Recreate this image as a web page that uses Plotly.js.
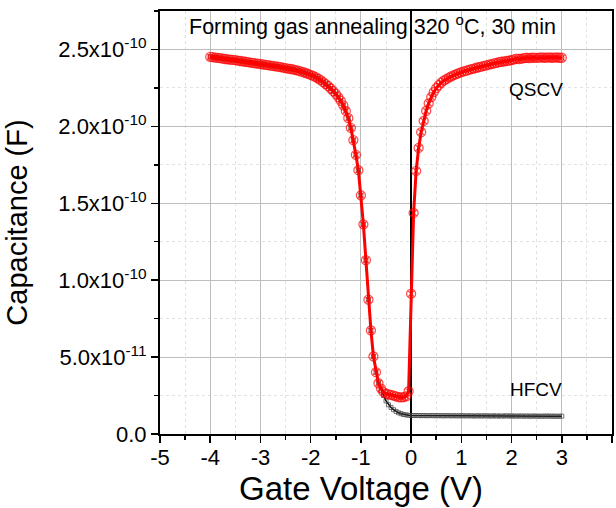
<!DOCTYPE html>
<html>
<head>
<meta charset="utf-8">
<script src="https://cdn.plot.ly/plotly-3.0.1.min.js"></script>
<style>html,body{margin:0;padding:0;background:#fff;}#chart{width:616px;height:508px;}</style>
</head>
<body>
<div id="chart"></div>
<script>
// Gate voltage sweep (V)
var gateVoltage = [
-4.00,-3.95,-3.90,-3.85,-3.80,-3.75,-3.70,-3.65,-3.60,-3.55,
-3.50,-3.45,-3.40,-3.35,-3.30,-3.25,-3.20,-3.15,-3.10,-3.05,
-3.00,-2.95,-2.90,-2.85,-2.80,-2.75,-2.70,-2.65,-2.60,-2.55,
-2.50,-2.45,-2.40,-2.35,-2.30,-2.25,-2.20,-2.15,-2.10,-2.05,
-2.00,-1.95,-1.90,-1.85,-1.80,-1.75,-1.70,-1.65,-1.60,-1.55,
-1.50,-1.45,-1.40,-1.35,-1.30,-1.25,-1.20,-1.15,-1.10,-1.05,
-1.00,-0.95,-0.90,-0.85,-0.80,-0.75,-0.70,-0.65,-0.60,-0.55,
-0.50,-0.45,-0.40,-0.35,-0.30,-0.25,-0.20,-0.15,-0.10,-0.05,
0.00,0.05,0.10,0.15,0.20,0.25,0.30,0.35,0.40,0.45,
0.50,0.55,0.60,0.65,0.70,0.75,0.80,0.85,0.90,0.95,
1.00,1.05,1.10,1.15,1.20,1.25,1.30,1.35,1.40,1.45,
1.50,1.55,1.60,1.65,1.70,1.75,1.80,1.85,1.90,1.95,
2.00,2.05,2.10,2.15,2.20,2.25,2.30,2.35,2.40,2.45,
2.50,2.55,2.60,2.65,2.70,2.75,2.80,2.85,2.90,2.95,
3.00];

// Capacitance, in units of 1e-10 F
var hfcvC = [
2.452,2.450,2.447,2.445,2.443,2.440,2.438,2.436,2.434,2.432,
2.430,2.428,2.425,2.423,2.420,2.418,2.415,2.413,2.410,2.408,
2.405,2.403,2.400,2.398,2.395,2.393,2.390,2.388,2.385,2.382,
2.379,2.376,2.373,2.370,2.366,2.362,2.357,2.352,2.347,2.341,
2.335,2.328,2.320,2.311,2.300,2.288,2.275,2.261,2.246,2.229,
2.211,2.190,2.166,2.137,2.100,2.053,1.990,1.910,1.815,1.715,
1.552,1.363,1.130,0.873,0.673,0.504,0.402,0.335,0.285,0.250,
0.215,0.190,0.172,0.158,0.147,0.138,0.132,0.127,0.124,0.122,
0.120,0.120,0.120,0.120,0.119,0.120,0.119,0.119,0.120,0.119,
0.119,0.119,0.119,0.118,0.119,0.119,0.118,0.119,0.118,0.118,
0.119,0.118,0.118,0.118,0.118,0.117,0.118,0.118,0.117,0.118,
0.118,0.117,0.117,0.118,0.117,0.117,0.117,0.117,0.118,0.117,
0.117,0.117,0.116,0.117,0.117,0.116,0.117,0.116,0.116,0.117,
0.116,0.116,0.116,0.116,0.117,0.116,0.116,0.116,0.115,0.116,
0.116];

var qscvC = [
2.452,2.450,2.447,2.445,2.443,2.440,2.438,2.436,2.434,2.432,
2.430,2.428,2.425,2.423,2.420,2.418,2.415,2.413,2.410,2.408,
2.405,2.403,2.400,2.398,2.395,2.393,2.390,2.388,2.385,2.382,
2.379,2.376,2.373,2.370,2.366,2.362,2.357,2.352,2.347,2.341,
2.335,2.328,2.320,2.311,2.300,2.288,2.275,2.261,2.246,2.229,
2.211,2.190,2.166,2.137,2.100,2.053,1.990,1.910,1.815,1.715,
1.552,1.363,1.130,0.873,0.673,0.504,0.402,0.330,0.295,0.272,
0.262,0.258,0.255,0.250,0.245,0.240,0.238,0.240,0.245,0.278,
0.912,1.437,1.710,1.860,1.962,2.035,2.100,2.150,2.190,2.222,
2.248,2.268,2.284,2.297,2.307,2.317,2.325,2.333,2.340,2.346,
2.352,2.357,2.362,2.367,2.372,2.376,2.381,2.385,2.389,2.393,
2.397,2.401,2.405,2.409,2.413,2.417,2.420,2.423,2.425,2.428,
2.431,2.436,2.440,2.438,2.441,2.443,2.446,2.444,2.446,2.447,
2.445,2.447,2.448,2.446,2.447,2.448,2.446,2.447,2.448,2.446,
2.446];

var UNIT = 1e-10;

var yTickVals = [0, 0.5, 1.0, 1.5, 2.0, 2.5];
var yTickText = ["0.0", "5.0x10<sup>-11</sup>", "1.0x10<sup>-10</sup>", "1.5x10<sup>-10</sup>", "2.0x10<sup>-10</sup>", "2.5x10<sup>-10</sup>"];
var xTickVals = [-5, -4, -3, -2, -1, 0, 1, 2, 3, 4];
var xTickText = ["-5", "-4", "-3", "-2", "-1", "0", "1", "2", "3", "4"];

var FONT = "Liberation Sans, Arial, sans-serif";

var traces = [
  {
    x: gateVoltage,
    y: hfcvC.map(function (v) { return v * UNIT; }),
    type: "scatter",
    mode: "lines+markers",
    name: "HFCV",
    line: { color: "#000000", width: 1.5 },
    marker: { symbol: "square-open", size: 4, color: "rgba(60,60,60,0.7)", line: { width: 1 } }
  },
  {
    x: gateVoltage,
    y: qscvC.map(function (v) { return v * UNIT; }),
    type: "scatter",
    mode: "lines+markers",
    name: "QSCV",
    line: { color: "#ff0000", width: 3 },
    marker: { symbol: "circle-x-open", size: 9, color: "rgba(255,0,0,0.7)", line: { width: 1.3 } }
  }
];

var layout = {
  width: 616,
  height: 508,
  margin: { l: 160, r: 4, t: 11, b: 74 },
  paper_bgcolor: "#ffffff",
  plot_bgcolor: "#ffffff",
  showlegend: false,
  font: { family: FONT, color: "#000000", size: 22 },
  xaxis: {
    range: [-5, 4],
    tickmode: "array",
    tickvals: xTickVals,
    ticktext: xTickText,
    ticks: "outside",
    ticklen: 7,
    tickwidth: 1.5,
    tickcolor: "#000",
    tickfont: { family: FONT, size: 22 },
    ticklabelstandoff: -4,
    showline: true,
    linecolor: "#000",
    linewidth: 2,
    mirror: true,
    showgrid: true,
    gridcolor: "#bdbdbd",
    gridwidth: 1,
    zeroline: true,
    zerolinecolor: "#000",
    zerolinewidth: 1.5,
    minor: { dtick: 0.5, tick0: 0, ticks: "outside", ticklen: 4, tickcolor: "#000", showgrid: true, gridcolor: "#e2e2e2", griddash: "dot" },
    title: { text: "" }
  },
  yaxis: {
    range: [0, 2.75e-10],
    tickmode: "array",
    tickvals: yTickVals.map(function (v) { return v * UNIT; }),
    ticktext: yTickText,
    ticks: "outside",
    ticklen: 7,
    tickwidth: 1.5,
    tickcolor: "#000",
    tickfont: { family: FONT, size: 22 },
    showline: true,
    linecolor: "#000",
    linewidth: 2,
    mirror: true,
    showgrid: true,
    gridcolor: "#bdbdbd",
    gridwidth: 1,
    zeroline: false,
    minor: { dtick: 0.25e-10, tick0: 0, ticks: "outside", ticklen: 4, tickcolor: "#000", showgrid: true, gridcolor: "#e2e2e2", griddash: "dot" },
    title: { text: "Capacitance (F)", font: { family: FONT, size: 29 }, standoff: 22 }
  },
  annotations: [
    { x: 0.445, y: -0.128, xref: "paper", yref: "paper", showarrow: false, xanchor: "center", yanchor: "middle",
      text: "Gate Voltage (V)", font: { family: FONT, size: 33, color: "#000" } },
    { x: -0.77, y: 2.66e-10, xref: "x", yref: "y", showarrow: false, xanchor: "center", yanchor: "middle",
      text: "Forming gas annealing 320 <sup>o</sup>C, 30 min", font: { family: FONT, size: 21.5, color: "#000" } },
    { x: 2.49, y: 2.24e-10, xref: "x", yref: "y", showarrow: false, xanchor: "center", yanchor: "middle",
      text: "QSCV", font: { family: FONT, size: 19, color: "#000" } },
    { x: 2.49, y: 0.29e-10, xref: "x", yref: "y", showarrow: false, xanchor: "center", yanchor: "middle",
      text: "HFCV", font: { family: FONT, size: 19, color: "#000" } }
  ]
};

Plotly.newPlot("chart", traces, layout, { displayModeBar: false, staticPlot: true });
</script>
</body>
</html>
